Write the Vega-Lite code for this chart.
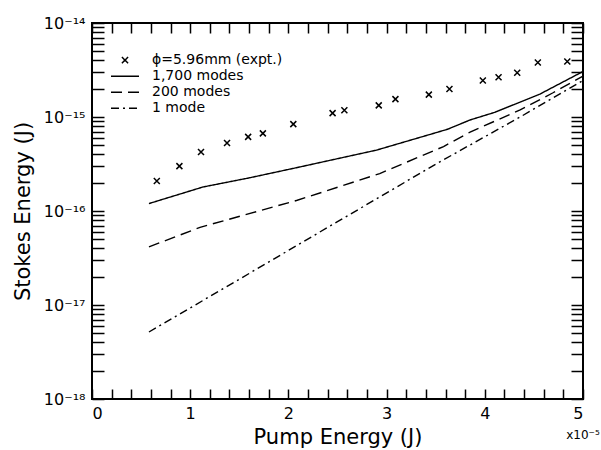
{
  "$schema": "https://vega.github.io/schema/vega-lite/v6.json",
  "width": 491,
  "height": 376,
  "autosize": "none",
  "padding": {"left": 92, "top": 23, "right": 18, "bottom": 51},
  "config": {
    "view": {"stroke": "black", "strokeWidth": 2},
    "font": "DejaVu Sans",
    "axis": {"domain": false, "grid": false, "ticks": true, "tickColor": "black", "tickWidth": 1.5, "labelColor": "black", "titleColor": "black", "labelFont": "DejaVu Sans", "titleFont": "DejaVu Sans", "titleFontWeight": "normal", "labelOverlap": false, "zindex": 1},
    "legend": {"labelFont": "DejaVu Sans"}
  },
  "datasets": {
    "expt": [
      {"series": "ϕ=5.96mm (expt.)", "pump": 0.66, "stokes": 2.09e-16},
      {"series": "ϕ=5.96mm (expt.)", "pump": 0.89, "stokes": 3.0e-16},
      {"series": "ϕ=5.96mm (expt.)", "pump": 1.11, "stokes": 4.25e-16},
      {"series": "ϕ=5.96mm (expt.)", "pump": 1.375, "stokes": 5.3e-16},
      {"series": "ϕ=5.96mm (expt.)", "pump": 1.59, "stokes": 6.15e-16},
      {"series": "ϕ=5.96mm (expt.)", "pump": 1.74, "stokes": 6.7e-16},
      {"series": "ϕ=5.96mm (expt.)", "pump": 2.05, "stokes": 8.4e-16},
      {"series": "ϕ=5.96mm (expt.)", "pump": 2.45, "stokes": 1.1e-15},
      {"series": "ϕ=5.96mm (expt.)", "pump": 2.57, "stokes": 1.18e-15},
      {"series": "ϕ=5.96mm (expt.)", "pump": 2.92, "stokes": 1.33e-15},
      {"series": "ϕ=5.96mm (expt.)", "pump": 3.09, "stokes": 1.55e-15},
      {"series": "ϕ=5.96mm (expt.)", "pump": 3.43, "stokes": 1.73e-15},
      {"series": "ϕ=5.96mm (expt.)", "pump": 3.64, "stokes": 1.99e-15},
      {"series": "ϕ=5.96mm (expt.)", "pump": 3.98, "stokes": 2.45e-15},
      {"series": "ϕ=5.96mm (expt.)", "pump": 4.14, "stokes": 2.65e-15},
      {"series": "ϕ=5.96mm (expt.)", "pump": 4.33, "stokes": 2.95e-15},
      {"series": "ϕ=5.96mm (expt.)", "pump": 4.54, "stokes": 3.8e-15},
      {"series": "ϕ=5.96mm (expt.)", "pump": 4.84, "stokes": 3.9e-15}
    ],
    "model": [
      {"series": "1,700 modes", "pump": 0.58, "stokes": 1.2e-16},
      {"series": "1,700 modes", "pump": 1.13, "stokes": 1.8e-16},
      {"series": "1,700 modes", "pump": 1.6, "stokes": 2.25e-16},
      {"series": "1,700 modes", "pump": 2.09, "stokes": 2.9e-16},
      {"series": "1,700 modes", "pump": 2.9, "stokes": 4.45e-16},
      {"series": "1,700 modes", "pump": 3.62, "stokes": 7.4e-16},
      {"series": "1,700 modes", "pump": 3.85, "stokes": 9.3e-16},
      {"series": "1,700 modes", "pump": 4.1, "stokes": 1.12e-15},
      {"series": "1,700 modes", "pump": 4.56, "stokes": 1.75e-15},
      {"series": "1,700 modes", "pump": 5.0, "stokes": 3.05e-15},
      {"series": "200 modes", "pump": 0.58, "stokes": 4.15e-17},
      {"series": "200 modes", "pump": 1.1, "stokes": 6.7e-17},
      {"series": "200 modes", "pump": 2.09, "stokes": 1.3e-16},
      {"series": "200 modes", "pump": 2.93, "stokes": 2.5e-16},
      {"series": "200 modes", "pump": 3.58, "stokes": 4.85e-16},
      {"series": "200 modes", "pump": 3.85, "stokes": 6.9e-16},
      {"series": "200 modes", "pump": 4.36, "stokes": 1.19e-15},
      {"series": "200 modes", "pump": 4.69, "stokes": 1.8e-15},
      {"series": "200 modes", "pump": 5.0, "stokes": 2.72e-15},
      {"series": "1 mode", "pump": 0.58, "stokes": 5.16e-18},
      {"series": "1 mode", "pump": 1.5, "stokes": 1.88e-17},
      {"series": "1 mode", "pump": 2.5, "stokes": 7.7e-17},
      {"series": "1 mode", "pump": 3.5, "stokes": 3.15e-16},
      {"series": "1 mode", "pump": 4.36, "stokes": 1.0e-15},
      {"series": "1 mode", "pump": 5.0, "stokes": 2.45e-15}
    ],
    "note": [{"pump": 5, "stokes": 1e-18, "text": "x10⁻⁵"}]
  },
  "layer": [
    {
      "data": {"name": "model"},
      "mark": {"type": "line", "color": "black", "strokeWidth": 1.4},
      "encoding": {
        "x": {"field": "pump", "type": "quantitative",
          "scale": {"domain": [0, 5], "nice": false, "zero": false},
          "axis": {"orient": "bottom", "title": "Pump Energy (J)", "titleFontSize": 21, "titlePadding": 5, "labelFontSize": 16, "labelPadding": 16, "tickSize": -10,
            "values": [0,0.2,0.4,0.6,0.8,1,1.2,1.4,1.6,1.8,2,2.2,2.4,2.6,2.8,3,3.2,3.4,3.6,3.8,4,4.2,4.4,4.6,4.8,5],
            "labelExpr": "datum.value % 1 === 0 ? format(datum.value, 'd') : ''",
            "encode": {"ticks": {"update": {"y2": {"signal": "datum.value % 1 === 0 ? -10 : -5"}}}}}},
        "y": {"field": "stokes", "type": "quantitative",
          "scale": {"type": "log", "domain": [1e-18, 1e-14], "nice": false},
          "axis": {"orient": "left", "title": "Stokes Energy (J)", "titleFontSize": 21, "titlePadding": 10, "labelFontSize": 16, "labelPadding": 19, "tickSize": -12,
            "values": [1e-18,2e-18,3e-18,4e-18,5e-18,6e-18,7e-18,8e-18,9e-18,1e-17,2e-17,3e-17,4e-17,5e-17,6e-17,7e-17,8e-17,9e-17,1e-16,2e-16,3e-16,4e-16,5e-16,6e-16,7e-16,8e-16,9e-16,1e-15,2e-15,3e-15,4e-15,5e-15,6e-15,7e-15,8e-15,9e-15,1e-14],
            "labelExpr": "abs(log(datum.value)/LN10 - round(log(datum.value)/LN10)) < 0.001 ? '10' + ['⁻¹⁸','⁻¹⁷','⁻¹⁶','⁻¹⁵','⁻¹⁴'][round(log(datum.value)/LN10) + 18] : ''",
            "encode": {"ticks": {"update": {"x2": {"signal": "abs(log(datum.value)/LN10 - round(log(datum.value)/LN10)) < 0.001 ? 12 : 7"}}}}}},
        "strokeDash": {"field": "series", "type": "nominal",
          "scale": {"domain": ["ϕ=5.96mm (expt.)", "1,700 modes", "200 modes", "1 mode"], "range": [[1, 0], [1, 0], [11, 6], [8, 4, 2, 4]]},
          "legend": {"title": null, "orient": "none", "legendX": 18, "legendY": 29.5, "labelFontSize": 14, "labelOffset": 12, "symbolSize": 784, "symbolStrokeWidth": 1.5, "symbolStrokeColor": "black", "symbolFillColor": "transparent", "clipHeight": 15.3, "rowPadding": 0, "padding": 0, "labelColor": "black"}}
      }
    },
    {
      "data": {"name": "expt"},
      "mark": {"type": "point", "color": "black", "filled": false, "strokeWidth": 1.5, "size": 744, "opacity": 1},
      "encoding": {
        "x": {"field": "pump", "type": "quantitative",
          "axis": {"orient": "top", "title": null, "labels": false, "tickSize": -10,
            "values": [0,0.2,0.4,0.6,0.8,1,1.2,1.4,1.6,1.8,2,2.2,2.4,2.6,2.8,3,3.2,3.4,3.6,3.8,4,4.2,4.4,4.6,4.8,5],
            "encode": {"ticks": {"update": {"y2": {"signal": "datum.value % 1 === 0 ? 10 : 5"}}}}}},
        "y": {"field": "stokes", "type": "quantitative",
          "axis": {"orient": "right", "title": null, "labels": false, "tickSize": -12,
            "values": [1e-18,2e-18,3e-18,4e-18,5e-18,6e-18,7e-18,8e-18,9e-18,1e-17,2e-17,3e-17,4e-17,5e-17,6e-17,7e-17,8e-17,9e-17,1e-16,2e-16,3e-16,4e-16,5e-16,6e-16,7e-16,8e-16,9e-16,1e-15,2e-15,3e-15,4e-15,5e-15,6e-15,7e-15,8e-15,9e-15,1e-14],
            "encode": {"ticks": {"update": {"x2": {"signal": "abs(log(datum.value)/LN10 - round(log(datum.value)/LN10)) < 0.001 ? -12 : -7"}}}}}},
        "shape": {"field": "series", "type": "nominal",
          "scale": {"domain": ["ϕ=5.96mm (expt.)", "1,700 modes", "200 modes", "1 mode"], "range": ["M-0.22,-0.22L0.22,0.22M-0.22,0.22L0.22,-0.22", "stroke", "stroke", "stroke"]},
          "legend": {"title": null}}
      }
    },
    {
      "data": {"name": "note"},
      "mark": {"type": "text", "color": "black", "fontSize": 12, "align": "center", "baseline": "alphabetic", "dy": 40, "dx": 0},
      "encoding": {
        "x": {"field": "pump", "type": "quantitative", "axis": null},
        "y": {"field": "stokes", "type": "quantitative", "axis": null},
        "text": {"field": "text"}
      }
    }
  ],
  "resolve": {"axis": {"x": "independent", "y": "independent"}}
}
